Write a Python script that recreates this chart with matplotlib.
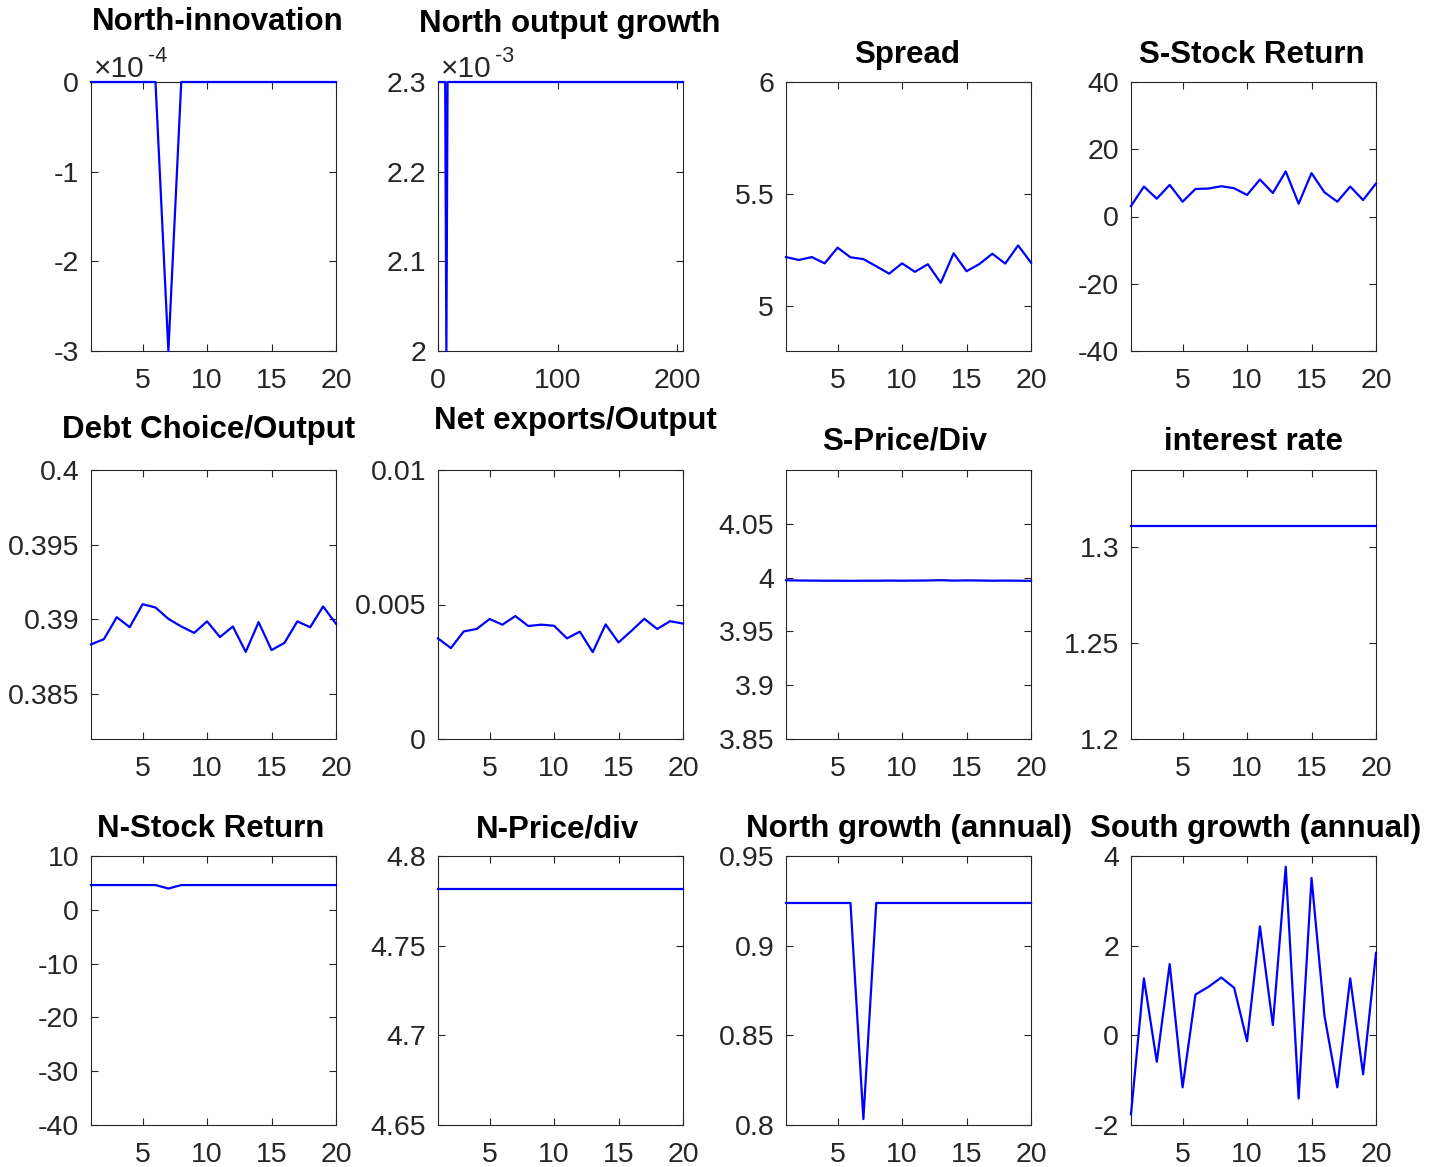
import matplotlib
matplotlib.use("Agg")
import matplotlib.pyplot as plt
from matplotlib.ticker import FixedLocator, FuncFormatter

plt.rcParams['font.family'] = ['Liberation Sans', 'DejaVu Sans']
plt.rcParams['axes.unicode_minus'] = False

# ---------------- data ----------------
t20 = list(range(1, 21))
north_innovation = [0, 0, 0, 0, 0, 0, -3.0e-4, 0, 0, 0, 0, 0, 0, 0, 0, 0, 0, 0, 0, 0]
t_long = list(range(1, 206))
north_output_growth = [0.0023] * 6 + [0.0020] + [0.0023] * 198
spread = [5.219, 5.206, 5.219, 5.191, 5.261, 5.218, 5.210, 5.178, 5.145, 5.191,
          5.153, 5.187, 5.104, 5.236, 5.156, 5.188, 5.234, 5.190, 5.271, 5.194]
s_stock_return = [3.1, 8.9, 5.3, 9.4, 4.4, 8.2, 8.3, 9.0, 8.4, 6.4,
                  11.0, 7.0, 13.4, 3.8, 12.9, 7.2, 4.4, 8.9, 4.9, 9.8]
debt_output = [0.38833, 0.38868, 0.39015, 0.38948, 0.39102, 0.39080, 0.39004, 0.38953, 0.38910, 0.38987,
               0.38882, 0.38953, 0.38783, 0.38982, 0.38795, 0.38843, 0.38987, 0.38948, 0.39087, 0.38971]
net_exports_output = [0.00374, 0.00338, 0.00400, 0.00409, 0.00446, 0.00425, 0.00457, 0.00420, 0.00425, 0.00421,
                      0.00374, 0.00399, 0.00323, 0.00426, 0.00359, 0.00402, 0.00447, 0.00409, 0.00438, 0.00429]
s_price_div = [3.9975, 3.9973, 3.9972, 3.9971, 3.9971, 3.9970, 3.9971, 3.9971, 3.9972, 3.9971,
               3.9972, 3.9973, 3.9976, 3.9972, 3.9974, 3.9973, 3.9971, 3.9972, 3.9971, 3.9970]
interest_rate = [1.311] * 20
n_stock_return = [4.6, 4.6, 4.6, 4.6, 4.6, 4.6, 3.95, 4.6, 4.6, 4.6,
                  4.6, 4.6, 4.6, 4.6, 4.6, 4.6, 4.6, 4.6, 4.6, 4.6]
n_price_div = [4.7816] * 20
north_growth = [0.9238, 0.9238, 0.9238, 0.9238, 0.9238, 0.9238, 0.8033, 0.9238, 0.9238, 0.9238,
                0.9238, 0.9238, 0.9238, 0.9238, 0.9238, 0.9238, 0.9238, 0.9238, 0.9238, 0.9238]
south_growth = [-1.76, 1.27, -0.59, 1.59, -1.16, 0.91, 1.08, 1.29, 1.06, -0.13,
                2.43, 0.23, 3.76, -1.41, 3.51, 0.44, -1.16, 1.27, -0.87, 1.84]

titles = ["North-innovation", "North output growth", "Spread", "S-Stock Return",
          "Debt Choice/Output", "Net exports/Output", "S-Price/Div", "interest rate",
          "N-Stock Return", "N-Price/div", "North growth (annual)", "South growth (annual)"]

panels = [
    (t20, north_innovation, (1, 20), [5, 10, 15, 20], (-3e-4, 0), [-3e-4, -2e-4, -1e-4, 0], -4),
    (t_long, north_output_growth, (0, 205), [0, 100, 200], (2e-3, 2.3e-3), [2e-3, 2.1e-3, 2.2e-3, 2.3e-3], -3),
    (t20, spread, (1, 20), [5, 10, 15, 20], (4.8, 6), [5, 5.5, 6], None),
    (t20, s_stock_return, (1, 20), [5, 10, 15, 20], (-40, 40), [-40, -20, 0, 20, 40], None),
    (t20, debt_output, (1, 20), [5, 10, 15, 20], (0.382, 0.4), [0.385, 0.39, 0.395, 0.4], None),
    (t20, net_exports_output, (1, 20), [5, 10, 15, 20], (0, 0.01), [0, 0.005, 0.01], None),
    (t20, s_price_div, (1, 20), [5, 10, 15, 20], (3.85, 4.1), [3.85, 3.9, 3.95, 4, 4.05], None),
    (t20, interest_rate, (1, 20), [5, 10, 15, 20], (1.2, 1.34), [1.2, 1.25, 1.3], None),
    (t20, n_stock_return, (1, 20), [5, 10, 15, 20], (-40, 10), [-40, -30, -20, -10, 0, 10], None),
    (t20, n_price_div, (1, 20), [5, 10, 15, 20], (4.65, 4.8), [4.65, 4.7, 4.75, 4.8], None),
    (t20, north_growth, (1, 20), [5, 10, 15, 20], (0.8, 0.95), [0.8, 0.85, 0.9, 0.95], None),
    (t20, south_growth, (1, 20), [5, 10, 15, 20], (-2, 4), [-2, 0, 2, 4], None),
]

# layout in pixels
W, H = 1446, 1167
col_left = [91, 438, 786, 1131]
row_top = [82, 470, 856]
aw, ah = 245, 269
title_pos = [(218, 22), (570, 24), (907, 55), (1252, 55),
             (209, 430), (575, 421), (905, 442), (1253, 442),
             (211, 829), (558, 829), (909, 829), (1256, 829)]

fig = plt.figure(figsize=(W / 100, H / 100), dpi=100)
axcol = '#262626'

def fx(px):
    return px / W

def fy(py):
    return 1 - py / H

for i, (x, y, xl, xt, yl, yt, expo) in enumerate(panels):
    r, c = divmod(i, 4)
    ax = fig.add_axes([col_left[c] / W, 1 - (row_top[r] + ah) / H, aw / W, ah / H])
    ax.plot(x, y, color=(0, 0, 1), lw=1.6, clip_on=False, zorder=3)
    ax.set_xlim(*xl)
    ax.set_ylim(*yl)
    ax.xaxis.set_major_locator(FixedLocator(xt))
    ax.yaxis.set_major_locator(FixedLocator(yt))
    if expo is not None:
        sc = 10.0 ** expo
        ax.yaxis.set_major_formatter(FuncFormatter(lambda v, p, sc=sc: '%g' % round(v / sc, 6)))
        left = col_left[c]
        fig.text(fx(left + 3), fy(row_top[r] - 5), '\u00d710', ha='left', va='baseline',
                 fontsize=21.5, color=axcol)
        fig.text(fx(left + 57), fy(row_top[r] - 20), '-%d' % (-expo), ha='left', va='baseline',
                 fontsize=15.5, color=axcol)
    else:
        ax.yaxis.set_major_formatter(FuncFormatter(lambda v, p: '%g' % round(v, 6)))
    ax.xaxis.set_major_formatter(FuncFormatter(lambda v, p: '%g' % v))
    ax.tick_params(direction='in', top=True, right=True, length=5, width=0.8,
                   labelsize=20.5, colors=axcol)
    ax.tick_params(axis='x', pad=12)
    ax.tick_params(axis='y', pad=8.5)
    for s in ax.spines.values():
        s.set_color(axcol)
        s.set_linewidth(0.8)
    tx, ty = title_pos[i]
    fig.text(fx(tx), fy(ty), titles[i], ha='center', va='center',
             fontsize=22.5, fontweight='bold', color='black')

fig.savefig('out.png', dpi=100, facecolor='white')
